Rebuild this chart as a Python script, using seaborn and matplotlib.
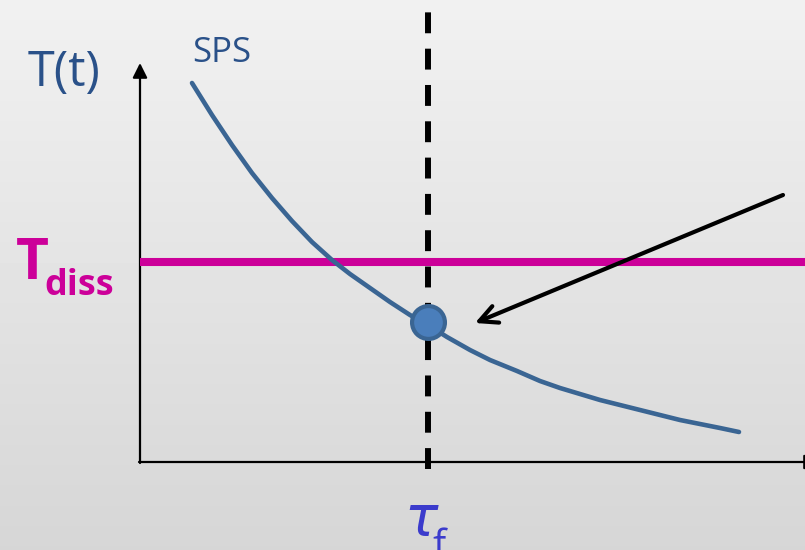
"""
Schematic: SPS temperature decay T(t) crossing the dissociation temperature T_diss at tau_f.
"""

import matplotlib.pyplot as plt
import seaborn as sns
import pandas as pd
import numpy as np

# schematic data (in figure pixel units)
curve_x = [192, 212, 232, 252, 272, 292, 312, 332, 350, 370, 390, 410, 428, 447, 470, 490, 517, 540,
           560, 580, 600, 620, 640, 660, 680, 700, 720, 739]
curve_y = [83, 115, 145, 173, 198, 221, 242, 260, 274, 288, 302, 315, 325, 337, 350, 360, 371, 381,
           388, 394, 400, 405, 410, 415, 420, 424, 428, 432]
origin = (140, 462)
y_axis_top = 63
x_axis_end = 819
t_diss = 262
tau_f = 428
tau_span = (469, 10)
dot = (428, 322)
arrow_from = (783, 195)
arrow_to = (475, 323)

curve_blue = '#3a6593'
text_blue = '#2a5189'
magenta = '#cc0099'
tau_blue = '#3b3bcc'

sns.set_theme(style='white')
plt.rcParams['font.family'] = ['Open Sans', 'DejaVu Sans']

fig = plt.figure(figsize=(8.05, 5.5), dpi=100)
ax = fig.add_axes([0, 0, 1, 1])

# light grey gradient background
grad = (np.linspace(241, 214, 550) / 255).reshape(-1, 1)
ax.imshow(grad, extent=[0, 805, 550, 0], aspect='auto', cmap='gray', vmin=0, vmax=1, zorder=0)

# axes with arrow heads
arrow_kw = dict(arrowstyle='-|>', lw=1.6, color='black', mutation_scale=22, shrinkA=0, shrinkB=0)
ax.annotate('', xy=(origin[0], y_axis_top), xytext=(origin[0], origin[1] + 1),
            arrowprops=arrow_kw, annotation_clip=False, zorder=2)
ax.annotate('', xy=(x_axis_end, origin[1]), xytext=(origin[0] - 1, origin[1]),
            arrowprops=arrow_kw, annotation_clip=False, zorder=2)

# T_diss level
ax.plot([origin[0], 805], [t_diss, t_diss], color=magenta, lw=5.8, solid_capstyle='butt', zorder=3)

# SPS curve
df = pd.DataFrame({'x': curve_x, 'y': curve_y})
sns.lineplot(data=df, x='x', y='y', color=curve_blue, lw=3.3, ax=ax, zorder=4, sort=False)

# tau_f dashed line
ax.plot([tau_f, tau_f], list(tau_span), color='black', lw=4.3, dashes=(3.5, 2.58), dash_capstyle='butt',
        zorder=5)

# crossing point
sns.scatterplot(x=[dot[0]], y=[dot[1]], s=560, color='#4a7ebb', edgecolor=curve_blue, linewidth=3,
                ax=ax, zorder=6, legend=False)

# pointer arrow
ax.annotate('', xy=arrow_to, xytext=arrow_from,
            arrowprops=dict(arrowstyle='->', lw=3, color='black', mutation_scale=32, shrinkA=0, shrinkB=0),
            zorder=7)

# labels
ax.text(28, 86, 'T(t)', color=text_blue, fontsize=35, ha='left', va='baseline')
ax.text(192, 62, 'SPS', color=text_blue, fontsize=25, ha='left', va='baseline')
ax.text(16, 279, 'T', color=magenta, fontsize=41, fontweight='bold', ha='left', va='baseline')
ax.text(44, 295, 'diss', color=magenta, fontsize=26, fontweight='bold', ha='left', va='baseline')
ax.text(404, 536, r'$\tau$', color=tau_blue, fontsize=40, ha='left', va='baseline')
ax.text(432, 557, 'f', color=tau_blue, fontsize=28, ha='left', va='baseline')

ax.set_xlim(0, 805)
ax.set_ylim(550, 0)
ax.axis('off')

fig.savefig('out.png', dpi=100)
